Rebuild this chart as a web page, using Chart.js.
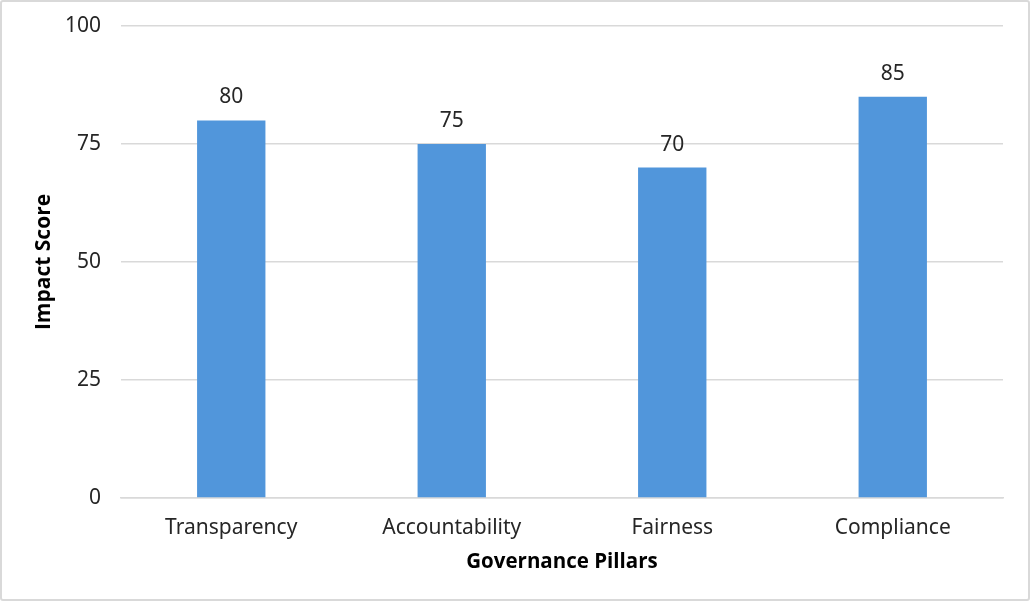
<!DOCTYPE html>
<html>
<head>
<meta charset="utf-8">
<script src="https://cdn.jsdelivr.net/npm/chart.js@4"></script>
<style>
  html, body { margin: 0; padding: 0; background: #fff; }
  #wrap { position: relative; width: 1030px; height: 601px; box-sizing: border-box; border: 2px solid #d9d9d9; border-radius: 3px; }
  canvas { position: absolute; left: 0; top: 0; }
</style>
</head>
<body>
<div id="wrap"><canvas id="chart" width="1026" height="597"></canvas></div>
<script>
const categories = ['Transparency', 'Accountability', 'Fairness', 'Compliance'];
const impactScores = [80, 75, 70, 85];
const yTicks = [0, 25, 50, 75, 100];

const BAR_COLOR = '#5196db';
const TEXT_COLOR = '#262626';
const LABEL_FONT = 'Noto Sans';

// draws the value above each bar
const valueLabels = {
  id: 'valueLabels',
  afterDatasetsDraw(chart) {
    const ctx = chart.ctx;
    const meta = chart.getDatasetMeta(0);
    ctx.save();
    ctx.font = '21px "' + LABEL_FONT + '"';
    ctx.fillStyle = TEXT_COLOR;
    ctx.textAlign = 'center';
    ctx.textBaseline = 'middle';
    meta.data.forEach((bar, i) => {
      ctx.fillText(String(chart.data.datasets[0].data[i]), bar.x, bar.y - 23);
    });
    ctx.restore();
  }
};

new Chart(document.getElementById('chart'), {
  type: 'bar',
  data: {
    labels: categories,
    datasets: [{
      data: impactScores,
      backgroundColor: BAR_COLOR,
      categoryPercentage: 0.62,
      barPercentage: 0.5
    }]
  },
  options: {
    responsive: false,
    animation: false,
    layout: { padding: { top: 24, right: 25, bottom: 0, left: 0 } },
    plugins: { legend: { display: false }, tooltip: { enabled: false } },
    scales: {
      x: {
        grid: { display: false },
        border: { color: '#d9d9d9', width: 1.5 },
        ticks: { color: TEXT_COLOR, font: { family: LABEL_FONT, size: 21 }, padding: 9 },
        title: {
          display: true,
          text: 'Governance Pillars',
          color: '#000',
          font: { family: 'Open Sans', size: 20.5, weight: 'bold' },
          padding: { top: 0, bottom: 25 }
        },
        afterFit(scale) { scale.height = 101; }
      },
      y: {
        min: 0,
        max: 100,
        afterBuildTicks(scale) { scale.ticks = yTicks.map(v => ({ value: v })); },
        grid: { color: '#d9d9d9', lineWidth: 1.5, drawTicks: false },
        border: { display: false },
        ticks: { color: TEXT_COLOR, font: { family: LABEL_FONT, size: 21 }, padding: 20 },
        title: {
          display: true,
          text: 'Impact Score',
          color: '#000',
          font: { family: 'Open Sans', size: 21, weight: 'bold' },
          padding: { top: 29, bottom: 0 }
        },
        afterFit(scale) {
          scale.width = 119;
          scale.paddingTop = 0;
          scale.paddingBottom = 0;
        }
      }
    }
  },
  plugins: [valueLabels]
});
</script>
</body>
</html>
